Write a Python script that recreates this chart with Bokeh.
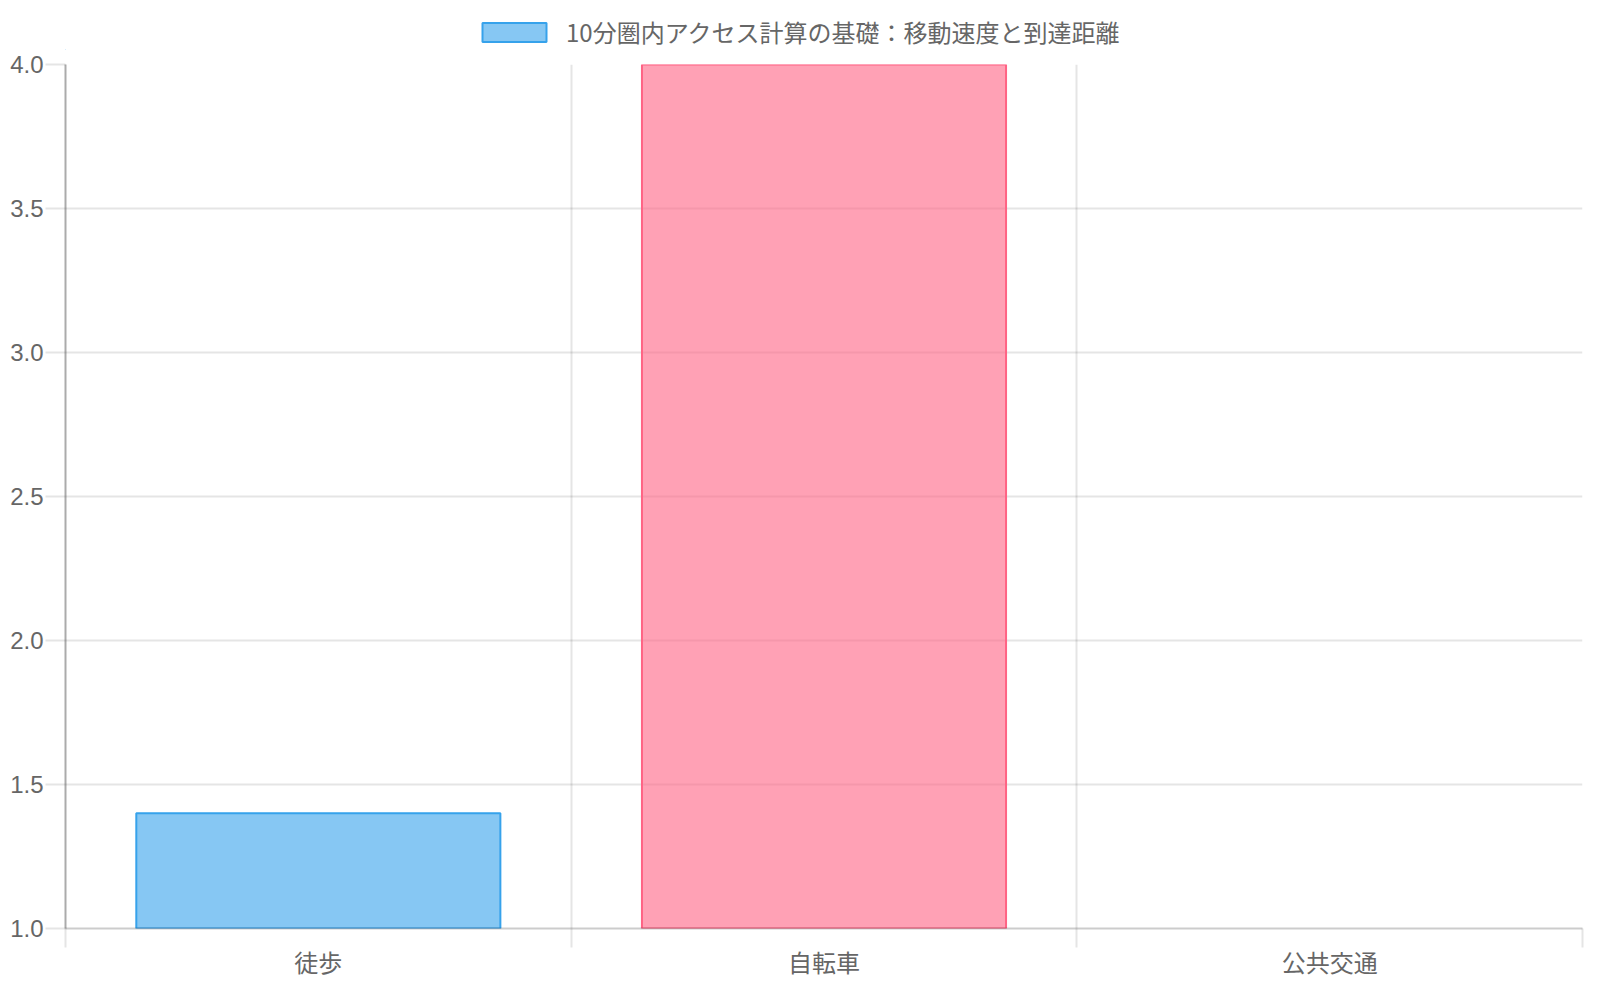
from bokeh.plotting import figure
from bokeh.layouts import column
from bokeh.models import (Range1d, FixedTicker, SingleIntervalTicker, Legend, LegendItem,
                          ColumnDataSource, PrintfTickFormatter)
from bokeh.embed import file_html
from bokeh.resources import INLINE

# ---- data ----
categories = ["徒歩", "自転車", "公共交通"]
values = [1.4, 4.0, None]
series_label = "10分圏内アクセス計算の基礎：移動速度と到達距離"
y_min, y_max, y_step = 1.0, 4.0, 0.5

# ---- styles ----
fill_colors = ["rgb(54,162,235)", "rgb(255,99,132)", "rgb(255,206,86)"]
FONT_LAT = "Liberation Sans, Noto Sans CJK JP, sans-serif"
FONT_CJK = "Noto Sans CJK JP, Liberation Sans, sans-serif"
TXT = "#666666"
GRID = "rgba(0,0,0,0.1)"

W = 1584
LEG_H = 50

n = len(categories)
xs = [i + 0.5 for i in range(n)]
tops = [float("nan") if v is None else v for v in values]
src = ColumnDataSource(dict(x=xs, top=tops, bottom=[y_min] * n,
                            color=fill_colors[:n], cat=categories))

# ---- main chart ----
p = figure(width=W, height=934, output_backend="svg", toolbar_location=None,
           x_range=Range1d(0, n), y_range=Range1d(y_min, y_max),
           min_border_left=65, min_border_top=14, min_border_right=2, min_border_bottom=56)
p.outline_line_color = None
p.background_fill_color = "white"
p.border_fill_color = "white"

r = p.vbar(x="x", top="top", bottom="bottom", width=0.72, source=src,
           fill_color="color", fill_alpha=0.6, line_color="color", line_width=2)

# x axis: labels at category centres, tick marks / grid at band boundaries
p.xaxis.ticker = FixedTicker(ticks=xs, minor_ticks=list(range(n + 1)))
p.xaxis.major_label_overrides = {x: c for x, c in zip(xs, categories)}
p.xaxis.major_tick_out = 0
p.xaxis.major_tick_in = 0
p.xaxis.minor_tick_out = 19
p.xaxis.minor_tick_in = 0
p.xaxis.minor_tick_line_color = GRID
p.xaxis.minor_tick_line_width = 2
p.xaxis.axis_line_color = "rgba(0,0,0,0.2)"
p.xaxis.axis_line_width = 2
p.xaxis.major_label_text_font = FONT_CJK
p.xaxis.major_label_text_font_size = "24px"
p.xaxis.major_label_text_color = TXT
p.xaxis.major_label_standoff = -4
p.xgrid.ticker = FixedTicker(ticks=list(range(n + 1)))
p.xgrid.grid_line_color = GRID
p.xgrid.grid_line_width = 2

# y axis
p.yaxis.ticker = SingleIntervalTicker(interval=y_step)
p.yaxis.formatter = PrintfTickFormatter(format="%.1f")
p.yaxis.major_tick_out = 20
p.yaxis.major_tick_in = 0
p.yaxis.major_tick_line_color = GRID
p.yaxis.major_tick_line_width = 2
p.yaxis.minor_tick_line_color = None
p.yaxis.axis_line_color = "rgba(0,0,0,0.33)"
p.yaxis.axis_line_width = 2
p.yaxis.major_label_text_font = FONT_LAT
p.yaxis.major_label_text_font_size = "24px"
p.yaxis.major_label_text_color = TXT
p.yaxis.major_label_standoff = 2
p.ygrid.ticker = SingleIntervalTicker(interval=y_step)
p.ygrid.grid_line_color = GRID
p.ygrid.grid_line_width = 2

# ---- legend strip above the chart (frames are aligned by the column layout) ----
lf = figure(width=W, height=LEG_H, output_backend="svg", toolbar_location=None,
            x_range=Range1d(0, 1), y_range=Range1d(0, 1),
            x_axis_type=None, y_axis_type=None,
            min_border_left=65, min_border_right=2, min_border_top=0, min_border_bottom=0)
lf.outline_line_color = None
lf.grid.visible = False
lf.background_fill_color = "white"
lf.border_fill_color = "white"
# legend proxy: same style as the first series, kept outside the visible range
lr = lf.vbar(x=[-5], top=[-5], bottom=[-6], width=1, fill_color=fill_colors[0], fill_alpha=0.6,
             line_color=fill_colors[0], line_width=2)
legend = Legend(items=[LegendItem(label=series_label, renderers=[lr])],
                location=(474 - 65, 1), orientation="horizontal",
                glyph_width=80, glyph_height=24, label_standoff=12,
                label_text_font=FONT_CJK, label_text_font_size="24px",
                label_text_color=TXT, padding=0, margin=0, spacing=0,
                border_line_color=None, background_fill_alpha=0)
lf.add_layout(legend)

layout = column(lf, p, spacing=0)
open("out.html", "w").write(file_html(layout, INLINE))
